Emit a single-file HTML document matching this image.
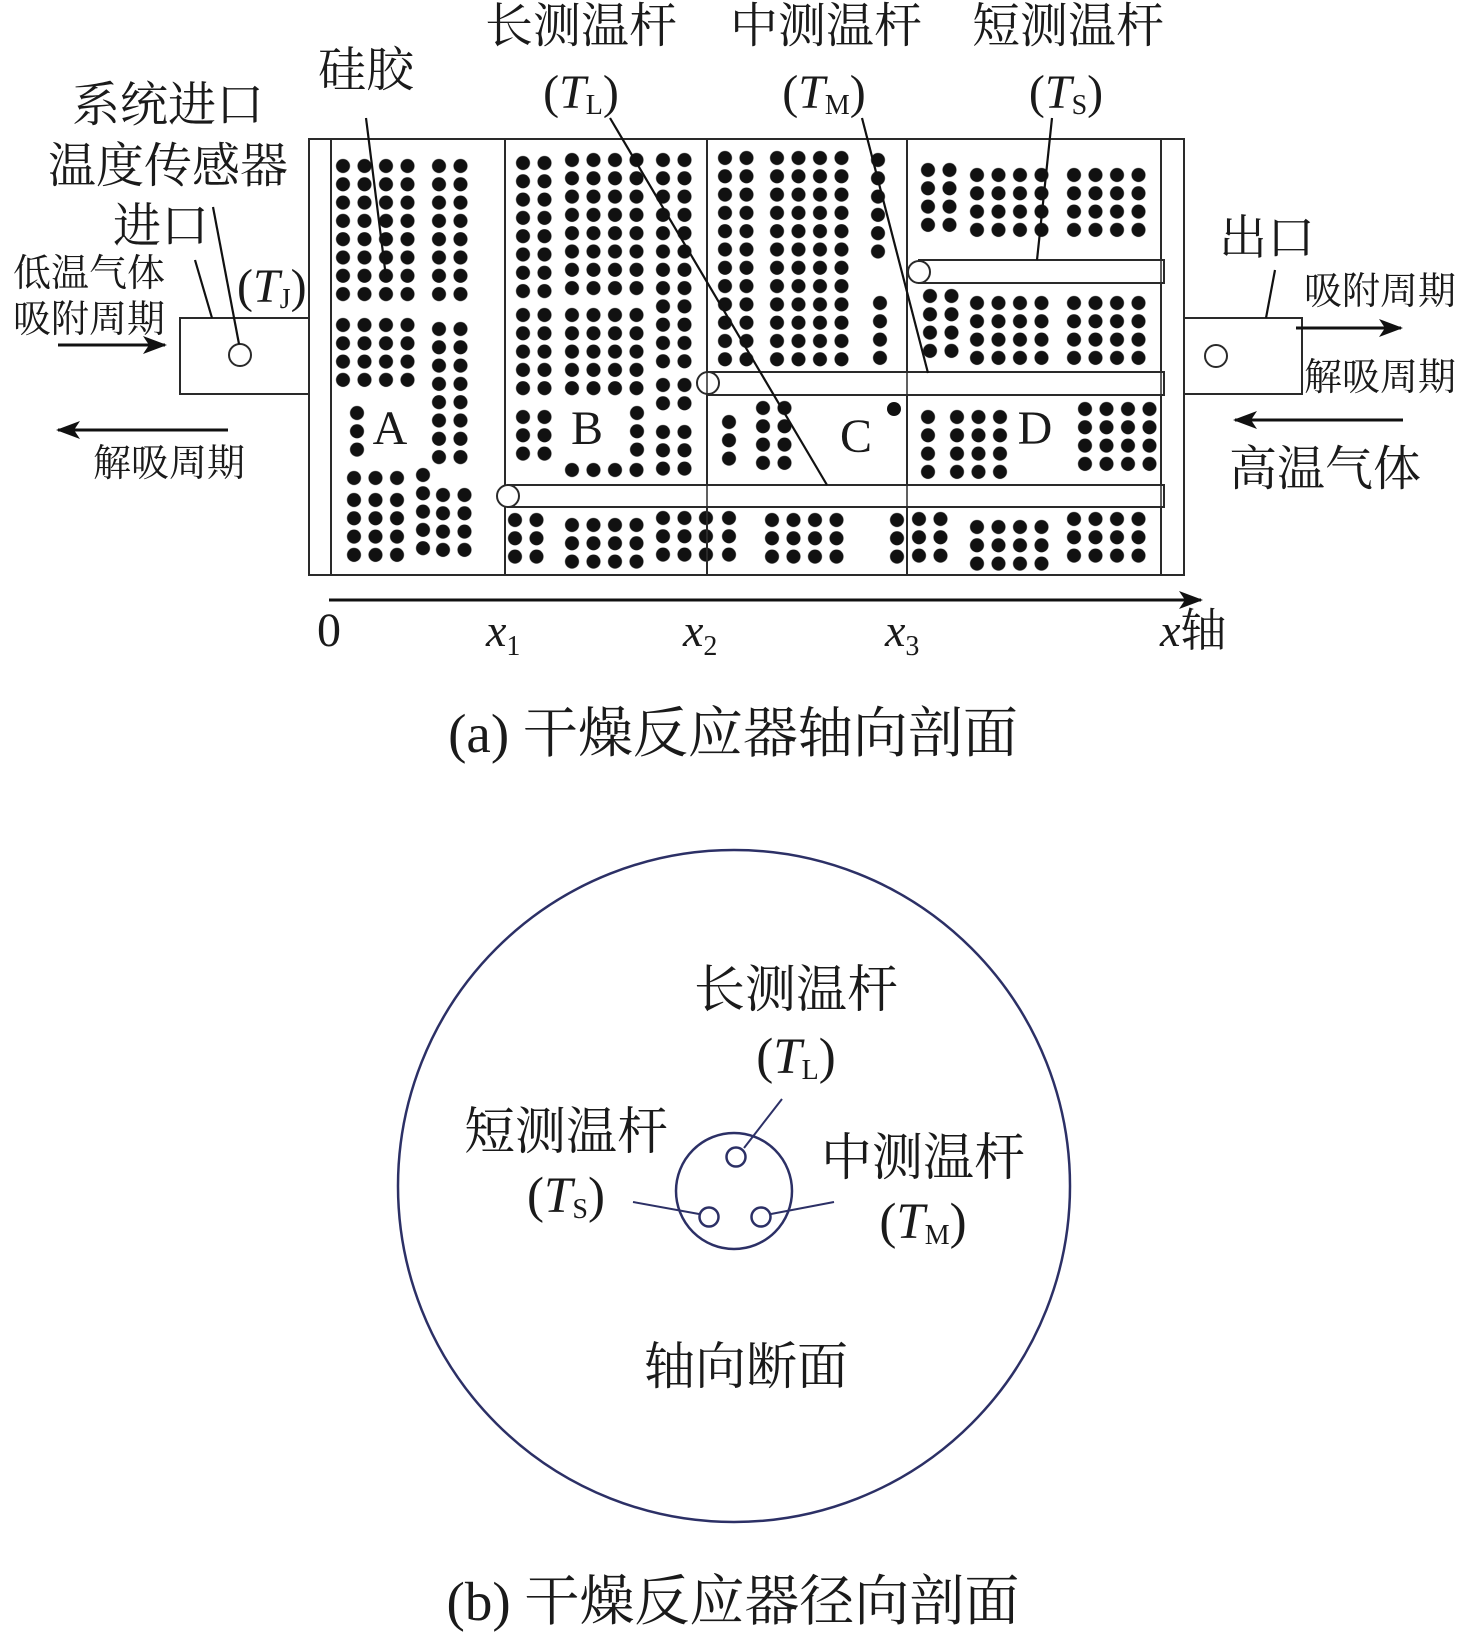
<!DOCTYPE html>
<html><head><meta charset="utf-8"><style>
html,body{margin:0;padding:0;background:#fff;}
svg{display:block;}
text{font-family:"Liberation Serif","Noto Serif CJK SC",serif;fill:#1a1a1a;}
</style></head><body>
<svg width="1476" height="1650" viewBox="0 0 1476 1650" xmlns="http://www.w3.org/2000/svg">
<defs>
<pattern id="p" width="21.5" height="18.3" patternUnits="userSpaceOnUse"><circle cx="10.75" cy="9.15" r="7" fill="#111"/></pattern>
<marker id="ah" markerWidth="24" markerHeight="18" refX="22" refY="9" orient="auto" markerUnits="userSpaceOnUse"><path d="M0,0 L24,9 L0,18 L6,9 Z" fill="#111"/></marker>
</defs>
<g fill="url(#p)">
<rect transform="translate(332.25,156.85)" width="86" height="146.4"/>
<rect transform="translate(428.25,156.85)" width="43" height="146.4"/>
<rect transform="translate(332.25,315.85)" width="86" height="73.2"/>
<rect transform="translate(428.25,319.85)" width="43" height="146.4"/>
<rect transform="translate(346.25,403.85)" width="21.5" height="54.9"/>
<rect transform="translate(343.25,468.85)" width="64.5" height="18.3"/>
<rect transform="translate(343.25,490.85)" width="64.5" height="73.2"/>
<rect transform="translate(412.25,465.85)" width="21.5" height="91.5"/>
<rect transform="translate(432.25,485.85)" width="43" height="73.2"/>
<rect transform="translate(512.25,153.85)" width="43" height="146.4"/>
<rect transform="translate(512.25,305.85)" width="43" height="91.5"/>
<rect transform="translate(512.25,407.85)" width="43" height="54.9"/>
<rect transform="translate(561.25,150.85)" width="86" height="146.4"/>
<rect transform="translate(561.25,305.85)" width="86" height="91.5"/>
<rect transform="translate(561.25,460.85)" width="86" height="18.3"/>
<rect transform="translate(626.25,403.85)" width="21.5" height="54.9"/>
<rect transform="translate(652.25,150.85)" width="43" height="219.6"/>
<rect transform="translate(652.25,375.85)" width="43" height="36.6"/>
<rect transform="translate(652.25,422.85)" width="43" height="54.9"/>
<rect transform="translate(504.25,510.85)" width="43" height="54.9"/>
<rect transform="translate(561.25,515.85)" width="86" height="54.9"/>
<rect transform="translate(652.25,508.85)" width="64.5" height="54.9"/>
<rect transform="translate(714.25,148.85)" width="43" height="219.6"/>
<rect transform="translate(766.25,148.85)" width="86" height="219.6"/>
<rect transform="translate(867.25,150.85)" width="21.5" height="109.8"/>
<rect transform="translate(869.25,293.85)" width="21.5" height="73.2"/>
<rect transform="translate(718.25,412.85)" width="21.5" height="54.9"/>
<rect transform="translate(752.25,398.85)" width="43" height="73.2"/>
<rect transform="translate(718.25,508.85)" width="21.5" height="54.9"/>
<rect transform="translate(761.25,510.85)" width="86" height="54.9"/>
<rect transform="translate(886.25,510.85)" width="21.5" height="54.9"/>
<rect transform="translate(917.25,160.85)" width="43" height="73.2"/>
<rect transform="translate(966.25,165.85)" width="86" height="73.2"/>
<rect transform="translate(1063.25,165.85)" width="86" height="73.2"/>
<rect transform="translate(919.25,286.85)" width="43" height="73.2"/>
<rect transform="translate(966.25,293.85)" width="86" height="73.2"/>
<rect transform="translate(1063.25,293.85)" width="86" height="73.2"/>
<rect transform="translate(917.25,407.85)" width="21.5" height="73.2"/>
<rect transform="translate(946.25,407.85)" width="64.5" height="73.2"/>
<rect transform="translate(1074.25,399.85)" width="86" height="73.2"/>
<rect transform="translate(908.25,509.85)" width="43" height="54.9"/>
<rect transform="translate(966.25,517.85)" width="86" height="54.9"/>
<rect transform="translate(1063.25,509.85)" width="86" height="54.9"/>
</g>
<circle cx="894" cy="409" r="7" fill="#111"/>
<g stroke="#2a2a2a" stroke-width="2" fill="none">
<rect x="309" y="139" width="875" height="436"/>
<line x1="331" y1="139" x2="331" y2="575"/>
<line x1="1161" y1="139" x2="1161" y2="575"/>
<line x1="505" y1="139" x2="505" y2="575"/>
<line x1="707" y1="139" x2="707" y2="575"/>
<line x1="907" y1="139" x2="907" y2="575"/>
</g>
<g stroke="#2a2a2a" stroke-width="2" fill="#fff">
<rect x="919" y="260" width="245" height="23"/>
<rect x="708" y="372" width="456" height="23"/>
<rect x="508" y="485" width="656" height="22"/>
<circle cx="919" cy="272" r="11"/>
<circle cx="708" cy="383" r="11"/>
<circle cx="508" cy="496" r="11"/>
<rect x="180" y="318" width="129" height="76"/>
<rect x="1184" y="318" width="118" height="76"/>
<circle cx="240" cy="355" r="11"/>
<circle cx="1216" cy="356" r="11"/>
</g>
<g fill="none" stroke="#2a2a2a" stroke-width="1.5">
<line x1="707" y1="372" x2="707" y2="395"/><line x1="907" y1="372" x2="907" y2="395"/>
<line x1="707" y1="485" x2="707" y2="507"/><line x1="907" y1="485" x2="907" y2="507"/>
<line x1="1161" y1="260" x2="1161" y2="283"/><line x1="1161" y1="372" x2="1161" y2="395"/><line x1="1161" y1="485" x2="1161" y2="507"/>
</g>
<g stroke="#111" stroke-width="2.2" fill="none">
<line x1="366" y1="118" x2="386" y2="277"/>
<line x1="610" y1="118" x2="827" y2="485"/>
<line x1="862" y1="118" x2="928" y2="373"/>
<line x1="1052" y1="118" x2="1037" y2="260"/>
<line x1="213" y1="207" x2="239" y2="344"/>
<line x1="195" y1="260" x2="212" y2="318"/>
<line x1="1275" y1="270" x2="1266" y2="318"/>
</g>
<g stroke="#111" stroke-width="3" fill="none">
<line x1="58" y1="345" x2="165" y2="345" marker-end="url(#ah)"/>
<line x1="228" y1="430" x2="58" y2="430" marker-end="url(#ah)"/>
<line x1="1296" y1="328" x2="1401" y2="328" marker-end="url(#ah)"/>
<line x1="1403" y1="420" x2="1235" y2="420" marker-end="url(#ah)"/>
<line x1="329" y1="600" x2="1201" y2="600" marker-end="url(#ah)"/>
</g>
<g font-size="48" text-anchor="middle">
<text x="581" y="42">长测温杆</text>
<text x="826" y="42">中测温杆</text>
<text x="1068" y="42">短测温杆</text>
<text x="581" y="108">(<tspan font-style="italic">T</tspan><tspan font-size="28" dy="6">L</tspan><tspan dy="-6">)</tspan></text>
<text x="824" y="108">(<tspan font-style="italic">T</tspan><tspan font-size="28" dy="6">M</tspan><tspan dy="-6">)</tspan></text>
<text x="1066" y="108">(<tspan font-style="italic">T</tspan><tspan font-size="28" dy="6">S</tspan><tspan dy="-6">)</tspan></text>
<text x="366" y="86">硅胶</text>
<text x="168" y="121">系统进口</text>
<text x="168" y="182">温度传感器</text>
<text x="161" y="242">进口</text>
<text x="1267" y="254">出口</text>
<text x="390" y="444">A</text>
<text x="587" y="444">B</text>
<text x="856" y="452">C</text>
<text x="1035" y="444">D</text>
<text x="1325" y="485">高温气体</text>
<text x="329" y="646">0</text>
</g>
<text x="237" y="302" font-size="48">(<tspan font-style="italic">T</tspan><tspan font-size="28" dy="6">J</tspan><tspan dy="-6">)</tspan></text>
<g font-size="38" text-anchor="middle">
<text x="89" y="286">低温气体</text>
<text x="89" y="332">吸附周期</text>
<text x="169" y="476">解吸周期</text>
<text x="1380" y="304">吸附周期</text>
<text x="1380" y="390">解吸周期</text>
</g>
<g font-size="46" font-style="italic">
<text x="486" y="646">x<tspan font-size="28" font-style="normal" dy="9">1</tspan></text>
<text x="683" y="646">x<tspan font-size="28" font-style="normal" dy="9">2</tspan></text>
<text x="885" y="646">x<tspan font-size="28" font-style="normal" dy="9">3</tspan></text>
<text x="1160" y="646">x<tspan font-style="normal">轴</tspan></text>
</g>
<text x="733" y="752" font-size="55" text-anchor="middle">(a) 干燥反应器轴向剖面</text>
<circle cx="734" cy="1186" r="336" fill="none" stroke="#2c3066" stroke-width="2.5"/>
<g fill="#fff" stroke="#2c3066" stroke-width="2.5">
<circle cx="734" cy="1191" r="58"/>
<circle cx="736" cy="1157" r="9.5"/>
<circle cx="709" cy="1217" r="9.5"/>
<circle cx="761" cy="1217" r="9.5"/>
</g>
<g stroke="#2c3066" stroke-width="2" fill="none">
<line x1="782" y1="1099" x2="744" y2="1148"/>
<line x1="633" y1="1202" x2="699" y2="1214"/>
<line x1="834" y1="1202" x2="771" y2="1214"/>
</g>
<g font-size="51" text-anchor="middle">
<text x="796" y="1007">长测温杆</text>
<text x="796" y="1073">(<tspan font-style="italic">T</tspan><tspan font-size="28" dy="6">L</tspan><tspan dy="-6">)</tspan></text>
<text x="566" y="1149">短测温杆</text>
<text x="566" y="1212">(<tspan font-style="italic">T</tspan><tspan font-size="28" dy="6">S</tspan><tspan dy="-6">)</tspan></text>
<text x="923" y="1175">中测温杆</text>
<text x="923" y="1238">(<tspan font-style="italic">T</tspan><tspan font-size="28" dy="6">M</tspan><tspan dy="-6">)</tspan></text>
<text x="746" y="1384">轴向断面</text>
</g>
<text x="733" y="1620" font-size="55" text-anchor="middle">(b) 干燥反应器径向剖面</text>
</svg>
</body></html>
